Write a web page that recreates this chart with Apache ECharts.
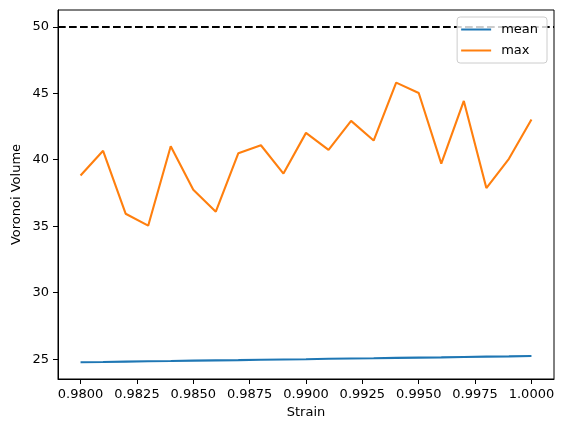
<!DOCTYPE html>
<html>
<head>
<meta charset="utf-8">
<script src="https://cdn.jsdelivr.net/npm/echarts@6/dist/echarts.min.js"></script>
<style>html,body{margin:0;padding:0;background:#fff;}#c{width:565px;height:433px;}</style>
</head>
<body>
<div id="c"></div>
<script>
const strain = [0.980,0.981,0.982,0.983,0.984,0.985,0.986,0.987,0.988,0.989,0.990,0.991,0.992,0.993,0.994,0.995,0.996,0.997,0.998,0.999,1.000];
const meanVals = [24.77,24.79,24.82,24.84,24.86,24.89,24.91,24.93,24.96,24.98,25.00,25.03,25.05,25.07,25.10,25.12,25.14,25.17,25.19,25.21,25.24];
const maxVals = [38.81,40.67,35.94,35.04,41.02,37.74,36.09,40.49,41.09,38.96,42.02,40.74,42.92,41.44,45.80,45.02,39.71,44.42,37.87,40.07,43.02];
const refLevel = 50;
const xTicks = [0.98,0.9825,0.985,0.9875,0.99,0.9925,0.995,0.9975,1.0];
const yTicks = [25,30,35,40,45,50];

const chart = echarts.init(document.getElementById('c'), null, {renderer:'canvas'});
const font = 'DejaVu Sans';
const zip = (a,b) => a.map((v,i)=>[v,b[i]]);
chart.setOption({
  animation:false,
  textStyle:{fontFamily:font},
  grid:{left:58,right:11,top:10,bottom:54,containLabel:false},
  legend:{
    orient:'vertical', right:18, top:17, z:20,
    data:['mean','max'],
    icon:'rect', itemWidth:30, itemHeight:2, itemGap:8,
    backgroundColor:'rgba(255,255,255,0.8)', borderColor:'#cccccc', borderWidth:1, borderRadius:3,
    padding:[6,9,6,4],
    textStyle:{fontFamily:font,fontSize:13,color:'#000',padding:[0,0,0,5]}
  },
  xAxis:{
    type:'value', min:0.979, max:1.001,
    name:'Strain', nameLocation:'middle', nameGap:24,
    nameTextStyle:{fontFamily:font,fontSize:13,color:'#000'},
    axisLine:{onZero:false,lineStyle:{color:'#000',width:1}},
    axisTick:{show:true,length:5,lineStyle:{color:'#000'},customValues:xTicks},
    axisLabel:{color:'#000',fontSize:13,fontFamily:font,margin:9,customValues:xTicks,formatter:v=>v.toFixed(4)},
    splitLine:{show:false}
  },
  yAxis:{
    type:'value', min:23.51, max:51.26,
    name:'Voronoi Volume', nameLocation:'middle', nameGap:35, nameMoveOverlap:false,
    nameTextStyle:{fontFamily:font,fontSize:13,color:'#000'},
    axisLine:{show:true,onZero:false,lineStyle:{color:'#000',width:1}},
    axisTick:{show:true,length:5,lineStyle:{color:'#000'},customValues:yTicks},
    axisLabel:{color:'#000',fontSize:13,fontFamily:font,margin:9,customValues:yTicks},
    splitLine:{show:false}
  },
  series:[
    {name:'ref',type:'line',data:[],silent:true,z:2,
     markLine:{silent:true,z:2,symbol:['none','none'],label:{show:false},
       lineStyle:{color:'#000',width:1.8,type:[7.7,3.3]},data:[{yAxis:refLevel}]}},
    {name:'mean',type:'line',data:zip(strain,meanVals),showSymbol:false,symbol:'none',
     lineStyle:{color:'#1f77b4',width:2.1},itemStyle:{color:'#1f77b4'}},
    {name:'max',type:'line',data:zip(strain,maxVals),showSymbol:false,symbol:'none',
     lineStyle:{color:'#ff7f0e',width:2.1},itemStyle:{color:'#ff7f0e'}}
  ],
  graphic:[
    {type:'rect',shape:{x:58,y:10,width:496,height:369},style:{fill:null,stroke:'#000',lineWidth:1},silent:true,z:-1}
  ]
});
</script>
</body>
</html>
